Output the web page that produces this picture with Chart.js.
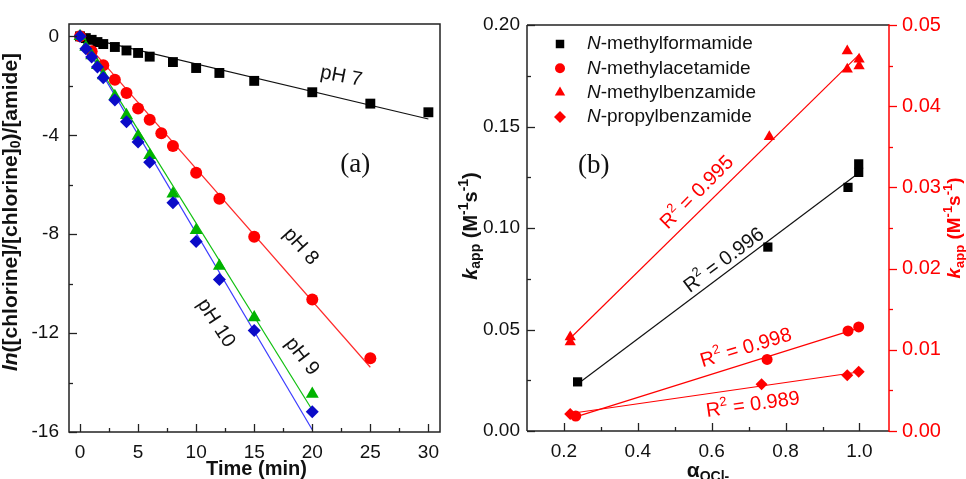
<!DOCTYPE html>
<html>
<head>
<meta charset="utf-8">
<script src="https://cdn.jsdelivr.net/npm/chart.js@4.4.0/dist/chart.umd.min.js"></script>
<style>
html, body { margin: 0; padding: 0; background: #fff; }
#wrap { position: relative; width: 966px; height: 479px; overflow: hidden; }
canvas { position: absolute; top: 0; }
#chartA { left: 0; }
#chartB { left: 450px; }
</style>
</head>
<body>
<div id="wrap">
  <canvas id="chartA" width="450" height="479"></canvas>
  <canvas id="chartB" width="516" height="479"></canvas>
</div>
<script>
"use strict";

// ---- Panel (a): ln decay vs time ----
var timePH7 = [0, 0.5, 1, 1.5, 2, 3, 4, 5, 6, 8, 10, 12, 15, 20, 25, 30];
var lnPH7 = [0, -0.07, -0.14, -0.23, -0.31, -0.43, -0.57, -0.67, -0.82, -1.04, -1.28, -1.48, -1.80, -2.26, -2.72, -3.07];
var timePH8 = [0, 1, 2, 3, 4, 5, 6, 7, 8, 10, 12, 15, 20, 25];
var lnPH8 = [0, -0.60, -1.17, -1.75, -2.29, -2.92, -3.37, -3.92, -4.43, -5.52, -6.57, -8.10, -10.64, -13.02];
var timePH9 = [0, 0.5, 1, 1.5, 2, 3, 4, 5, 6, 8, 10, 12, 15, 20];
var lnPH9 = [0, -0.43, -0.77, -1.17, -1.58, -2.42, -3.19, -4.03, -4.81, -6.36, -7.84, -9.29, -11.37, -14.46];
var timePH10 = [0, 0.5, 1, 1.5, 2, 3, 4, 5, 6, 8, 10, 12, 15, 20];
var lnPH10 = [0, -0.50, -0.83, -1.24, -1.67, -2.57, -3.45, -4.27, -5.09, -6.73, -8.30, -9.83, -11.90, -15.18];
var timeTicks = [0, 5, 10, 15, 20, 25, 30];
var lnTicks = [0, -4, -8, -12, -16];

// ---- Panel (b): k_app vs alpha(OCl-) ----
var alphaNMF = [0.237, 0.752, 0.969, 0.998, 0.998];
var kNMF = [0.0242, 0.0906, 0.1200, 0.1316, 0.1274];
var alphaNMA = [0.232, 0.750, 0.969, 0.998];
var kNMA = [0.00184, 0.00881, 0.01232, 0.01281];
var alphaNMB = [0.217, 0.217, 0.756, 0.967, 0.967, 0.999, 0.999];
var kNMB = [0.01158, 0.01097, 0.03624, 0.04680, 0.04456, 0.04579, 0.04496];
var alphaNPB = [0.217, 0.735, 0.967, 0.998];
var kNPB = [0.00209, 0.00577, 0.00688, 0.00729];
var alphaTicks = [0.2, 0.4, 0.6, 0.8, 1.0];
var kLeftTicks = [0, 0.05, 0.10, 0.15, 0.20];
var kRightTicks = [0, 0.01, 0.02, 0.03, 0.04, 0.05];

var SANS = '"Liberation Sans", Arial, Helvetica, sans-serif';
var SERIF = '"Liberation Serif", "Times New Roman", serif';
var RED = '#ff0000';

function font(size, style) {
    return (style || '') + ' ' + size + 'px ' + SANS;
}

function pts(xs, ys) {
    return xs.map(function (x, i) { return { x: x, y: ys[i] }; });
}

// least squares through the origin (first-order decay)
function fitOrigin(xs, ys) {
    var sxy = 0, sxx = 0;
    xs.forEach(function (x, i) { sxy += x * ys[i]; sxx += x * x; });
    var k = sxy / sxx;
    var x0 = Math.min.apply(null, xs), x1 = Math.max.apply(null, xs);
    return [{ x: x0, y: k * x0 }, { x: x1, y: k * x1 }];
}

// ordinary least squares with intercept
function fitLinear(xs, ys) {
    var n = xs.length, mx = 0, my = 0, sxy = 0, sxx = 0;
    xs.forEach(function (x, i) { mx += x / n; my += ys[i] / n; });
    xs.forEach(function (x, i) { sxy += (x - mx) * (ys[i] - my); sxx += (x - mx) * (x - mx); });
    var b = sxy / sxx, a = my - b * mx;
    var x0 = Math.min.apply(null, xs), x1 = Math.max.apply(null, xs);
    return [{ x: x0, y: a + b * x0 }, { x: x1, y: a + b * x1 }];
}

function markers(label, data, style, color, radius, order, yAxisID) {
    return {
        label: label, data: data, showLine: false,
        pointStyle: style, pointRadius: radius, pointHoverRadius: radius,
        pointBackgroundColor: color, pointBorderColor: color, pointBorderWidth: 0,
        order: order, yAxisID: yAxisID || 'y'
    };
}

function fitLine(data, color, yAxisID) {
    return {
        data: data, showLine: true, borderColor: color, borderWidth: 1.2,
        pointRadius: 0, pointHoverRadius: 0, fill: false, order: 10, yAxisID: yAxisID || 'y'
    };
}

function midpoints(vals) {
    var out = [];
    for (var i = 0; i < vals.length - 1; i++) out.push((vals[i] + vals[i + 1]) / 2);
    return out;
}

// text made of parts (italic, sub/superscripts), centred on x,y and rotated
function richText(ctx, parts, x, y, angle, color) {
    ctx.save();
    ctx.translate(x, y);
    ctx.rotate(angle * Math.PI / 180);
    ctx.fillStyle = color;
    ctx.textBaseline = 'middle';
    ctx.textAlign = 'left';
    var w = 0;
    parts.forEach(function (p) { ctx.font = p.f; w += ctx.measureText(p.t).width; });
    var cx = -w / 2;
    parts.forEach(function (p) {
        ctx.font = p.f;
        ctx.fillText(p.t, cx, p.dy || 0);
        cx += ctx.measureText(p.t).width;
    });
    ctx.restore();
}

function drawTicks(ctx, chart, scaleId, values, len, side, color) {
    var s = chart.scales[scaleId], a = chart.chartArea;
    ctx.save();
    ctx.strokeStyle = color;
    ctx.lineWidth = 1.3;
    values.forEach(function (v) {
        var p = Math.round(s.getPixelForValue(v)) + 0.5;
        ctx.beginPath();
        if (side === 'bottom') { ctx.moveTo(p, a.bottom); ctx.lineTo(p, a.bottom - len); }
        if (side === 'left') { ctx.moveTo(a.left, p); ctx.lineTo(a.left + len, p); }
        if (side === 'right') { ctx.moveTo(a.right, p); ctx.lineTo(a.right + len, p); }
        ctx.stroke();
    });
    ctx.restore();
}

function line(ctx, x0, y0, x1, y1, color, w) {
    ctx.save();
    ctx.strokeStyle = color;
    ctx.lineWidth = w;
    ctx.beginPath();
    ctx.moveTo(x0, y0);
    ctx.lineTo(x1, y1);
    ctx.stroke();
    ctx.restore();
}

function baseScale(min, max, ticks, size, pad, fmt, color) {
    return {
        type: 'linear', min: min, max: max,
        grid: { display: false, drawTicks: false },
        border: { display: false },
        afterBuildTicks: function (s) { s.ticks = ticks.map(function (v) { return { value: v }; }); },
        ticks: {
            padding: pad, color: color || '#111', maxRotation: 0, autoSkip: false,
            font: { family: SANS, size: size },
            callback: fmt
        }
    };
}

// ---------- chart (a) ----------
var decorA = {
    id: 'decorA',
    afterDraw: function (chart) {
        var ctx = chart.ctx, a = chart.chartArea, sx = chart.scales.x, sy = chart.scales.y;
        ctx.save();
        ctx.strokeStyle = '#222';
        ctx.lineWidth = 1.5;
        ctx.strokeRect(a.left, a.top, a.right - a.left, a.bottom - a.top);
        ctx.restore();
        drawTicks(ctx, chart, 'x', timeTicks, 8, 'bottom', '#222');
        drawTicks(ctx, chart, 'x', midpoints(timeTicks), 4, 'bottom', '#222');
        drawTicks(ctx, chart, 'y', lnTicks, 8, 'left', '#222');
        drawTicks(ctx, chart, 'y', midpoints(lnTicks), 4, 'left', '#222');

        var at = function (x, y) { return [sx.getPixelForValue(x), sy.getPixelForValue(y)]; };
        var p;
        p = at(22.5, -1.62); richText(ctx, [{ t: 'pH 7', f: font(20) }], p[0], p[1], 11, '#111');
        p = at(19.0, -8.5); richText(ctx, [{ t: 'pH 8', f: font(20) }], p[0], p[1], 48, '#111');
        p = at(19.1, -12.95); richText(ctx, [{ t: 'pH 9', f: font(20) }], p[0], p[1], 52, '#111');
        p = at(11.7, -11.6); richText(ctx, [{ t: 'pH 10', f: font(20) }], p[0], p[1], 57, '#111');
        p = at(23.7, -5.2); richText(ctx, [{ t: '(a)', f: '27px ' + SERIF }], p[0], p[1], 0, '#111');

        // axis titles
        richText(ctx, [{ t: 'Time (min)', f: font(20, 'bold') }], (a.left + a.right) / 2 + 2, 469, 0, '#111');
        richText(ctx, [
            { t: 'ln', f: font(21, 'italic bold') },
            { t: '([chlorine]/[chlorine]', f: font(21, 'bold') },
            { t: '0', f: font(14, 'bold'), dy: 5 },
            { t: ')/[amide]', f: font(21, 'bold') }
        ], 11, 212, -90, '#111');
    }
};

new Chart(document.getElementById('chartA'), {
    type: 'scatter',
    data: {
        datasets: [
            markers('pH 10', pts(timePH10, lnPH10), 'rectRot', '#0b0bc8', 6.5, 0),
            markers('pH 9', pts(timePH9, lnPH9), 'triangle', '#00b300', 7.5, 1),
            markers('pH 8', pts(timePH8, lnPH8), 'circle', RED, 6, 2),
            markers('pH 7', pts(timePH7, lnPH7), 'rect', '#000', 7, 3),
            fitLine(fitOrigin(timePH10, lnPH10), '#3b3bff'),
            fitLine(fitOrigin(timePH9, lnPH9), '#10c010'),
            fitLine(fitOrigin(timePH8, lnPH8), '#ff2a2a'),
            fitLine(fitOrigin(timePH7, lnPH7), '#111')
        ]
    },
    options: {
        responsive: false,
        animation: false,
        devicePixelRatio: 1,
        layout: { padding: { top: 24, right: 10, left: 0, bottom: 0 } },
        plugins: { legend: { display: false }, tooltip: { enabled: false } },
        scales: {
            x: Object.assign(baseScale(-0.95, 31, timeTicks, 19, 9, function (v) { return String(v); }), {
                afterFit: function (s) { s.height = 47; }
            }),
            y: Object.assign(baseScale(-16, 0.5, lnTicks, 19, 10, function (v) { return String(v); }), {
                afterFit: function (s) { s.width = 69; }
            })
        }
    },
    plugins: [decorA]
});

// ---------- chart (b) ----------
var legendB = [
    { name: '-methylformamide', style: 'rect', color: '#000', r: 6 },
    { name: '-methylacetamide', style: 'circle', color: RED, r: 5 },
    { name: '-methylbenzamide', style: 'triangle', color: RED, r: 6 },
    { name: '-propylbenzamide', style: 'rectRot', color: RED, r: 6 }
];

var decorB = {
    id: 'decorB',
    afterDraw: function (chart) {
        var ctx = chart.ctx, a = chart.chartArea, sx = chart.scales.x, sy = chart.scales.y;
        line(ctx, a.left, a.top, a.left, a.bottom, '#222', 1.5);
        line(ctx, a.left, a.bottom, a.right, a.bottom, '#222', 1.5);
        line(ctx, a.left, a.top, a.right, a.top, '#222', 1.5);
        line(ctx, a.right, a.top - 0.75, a.right, a.bottom + 0.75, RED, 1.5);
        drawTicks(ctx, chart, 'x', alphaTicks, 8, 'bottom', '#222');
        drawTicks(ctx, chart, 'x', midpoints(alphaTicks), 4, 'bottom', '#222');
        drawTicks(ctx, chart, 'y', kLeftTicks, 8, 'left', '#222');
        drawTicks(ctx, chart, 'y', midpoints(kLeftTicks), 4, 'left', '#222');
        drawTicks(ctx, chart, 'y2', kRightTicks, 8, 'right', RED);
        drawTicks(ctx, chart, 'y2', midpoints(kRightTicks), 4, 'right', RED);

        // legend
        legendB.forEach(function (it, i) {
            var y = a.top + 19 + i * 24.3;
            ctx.save();
            ctx.fillStyle = it.color;
            Chart.helpers.drawPoint(ctx, { pointStyle: it.style, radius: it.r, rotation: 0, borderWidth: 0 }, a.left + 33, y);
            ctx.restore();
            ctx.save();
            ctx.fillStyle = '#111';
            ctx.textBaseline = 'middle';
            ctx.font = font(19, 'italic');
            ctx.fillText('N', a.left + 60, y);
            var w = ctx.measureText('N').width;
            ctx.font = font(19);
            ctx.fillText(it.name, a.left + 60 + w, y);
            ctx.restore();
        });

        var at = function (x, y) { return [sx.getPixelForValue(x), sy.getPixelForValue(y)]; };
        var r2 = function (val) {
            return [{ t: 'R', f: font(20) }, { t: '2', f: font(13), dy: -7 }, { t: ' = ' + val, f: font(20) }];
        };
        var p;
        p = at(0.281, 0.1307); richText(ctx, [{ t: '(b)', f: '27px ' + SERIF }], p[0], p[1], 0, '#111');
        p = at(0.561, 0.1174); richText(ctx, r2('0.995'), p[0], p[1], -45, RED);
        p = at(0.634, 0.0840); richText(ctx, r2('0.996'), p[0], p[1], -37, '#111');
        p = at(0.693, 0.0408); richText(ctx, r2('0.998'), p[0], p[1], -17, RED);
        p = at(0.712, 0.0128); richText(ctx, r2('0.989'), p[0], p[1], -8, RED);

        // axis titles
        richText(ctx, [{ t: '\u03b1', f: font(21, 'bold') }, { t: 'OCl-', f: font(14, 'bold'), dy: 6 }],
            (a.left + a.right) / 2, 471, 0, '#111');
        var kTitle = function (size) {
            var sub = Math.round(size * 0.7);
            return [
                { t: 'k', f: font(size, 'italic bold') },
                { t: 'app', f: font(sub, 'bold'), dy: 5 },
                { t: ' (M', f: font(size, 'bold') },
                { t: '-1', f: font(sub, 'bold'), dy: -7 },
                { t: 's', f: font(size, 'bold') },
                { t: '-1', f: font(sub, 'bold'), dy: -7 },
                { t: ')', f: font(size, 'bold') }
            ];
        };
        richText(ctx, kTitle(20), 21, 226, -90, '#111');
        richText(ctx, kTitle(19), 505, 228, -90, RED);
    }
};

new Chart(document.getElementById('chartB'), {
    type: 'scatter',
    data: {
        datasets: [
            markers('N-methylformamide', pts(alphaNMF, kNMF), 'rect', '#000', 6.5, 0, 'y'),
            markers('N-methylacetamide', pts(alphaNMA, kNMA), 'circle', RED, 5.5, 1, 'y2'),
            markers('N-methylbenzamide', pts(alphaNMB, kNMB), 'triangle', RED, 6.5, 2, 'y2'),
            markers('N-propylbenzamide', pts(alphaNPB, kNPB), 'rectRot', RED, 6, 3, 'y2'),
            fitLine(fitLinear(alphaNMF, kNMF), '#111', 'y'),
            fitLine(fitLinear(alphaNMA, kNMA), RED, 'y2'),
            fitLine(fitLinear(alphaNMB, kNMB), RED, 'y2'),
            fitLine(fitLinear(alphaNPB, kNPB), RED, 'y2')
        ]
    },
    options: {
        responsive: false,
        animation: false,
        devicePixelRatio: 1,
        layout: { padding: { top: 24, right: 0, left: 0, bottom: 0 } },
        plugins: { legend: { display: false }, tooltip: { enabled: false } },
        scales: {
            x: Object.assign(baseScale(0.1, 1.08, alphaTicks, 19, 9, function (v) { return v.toFixed(1); }), {
                afterFit: function (s) { s.height = 48; }
            }),
            y: Object.assign(baseScale(0, 0.2, kLeftTicks, 19, 7, function (v) { return v.toFixed(2); }), {
                position: 'left',
                afterFit: function (s) { s.width = 77; }
            }),
            y2: Object.assign(baseScale(0, 0.05, kRightTicks, 20, 13, function (v) { return v.toFixed(2); }, RED), {
                position: 'right',
                afterFit: function (s) { s.width = 77; }
            })
        }
    },
    plugins: [decorB]
});
</script>
</body>
</html>
